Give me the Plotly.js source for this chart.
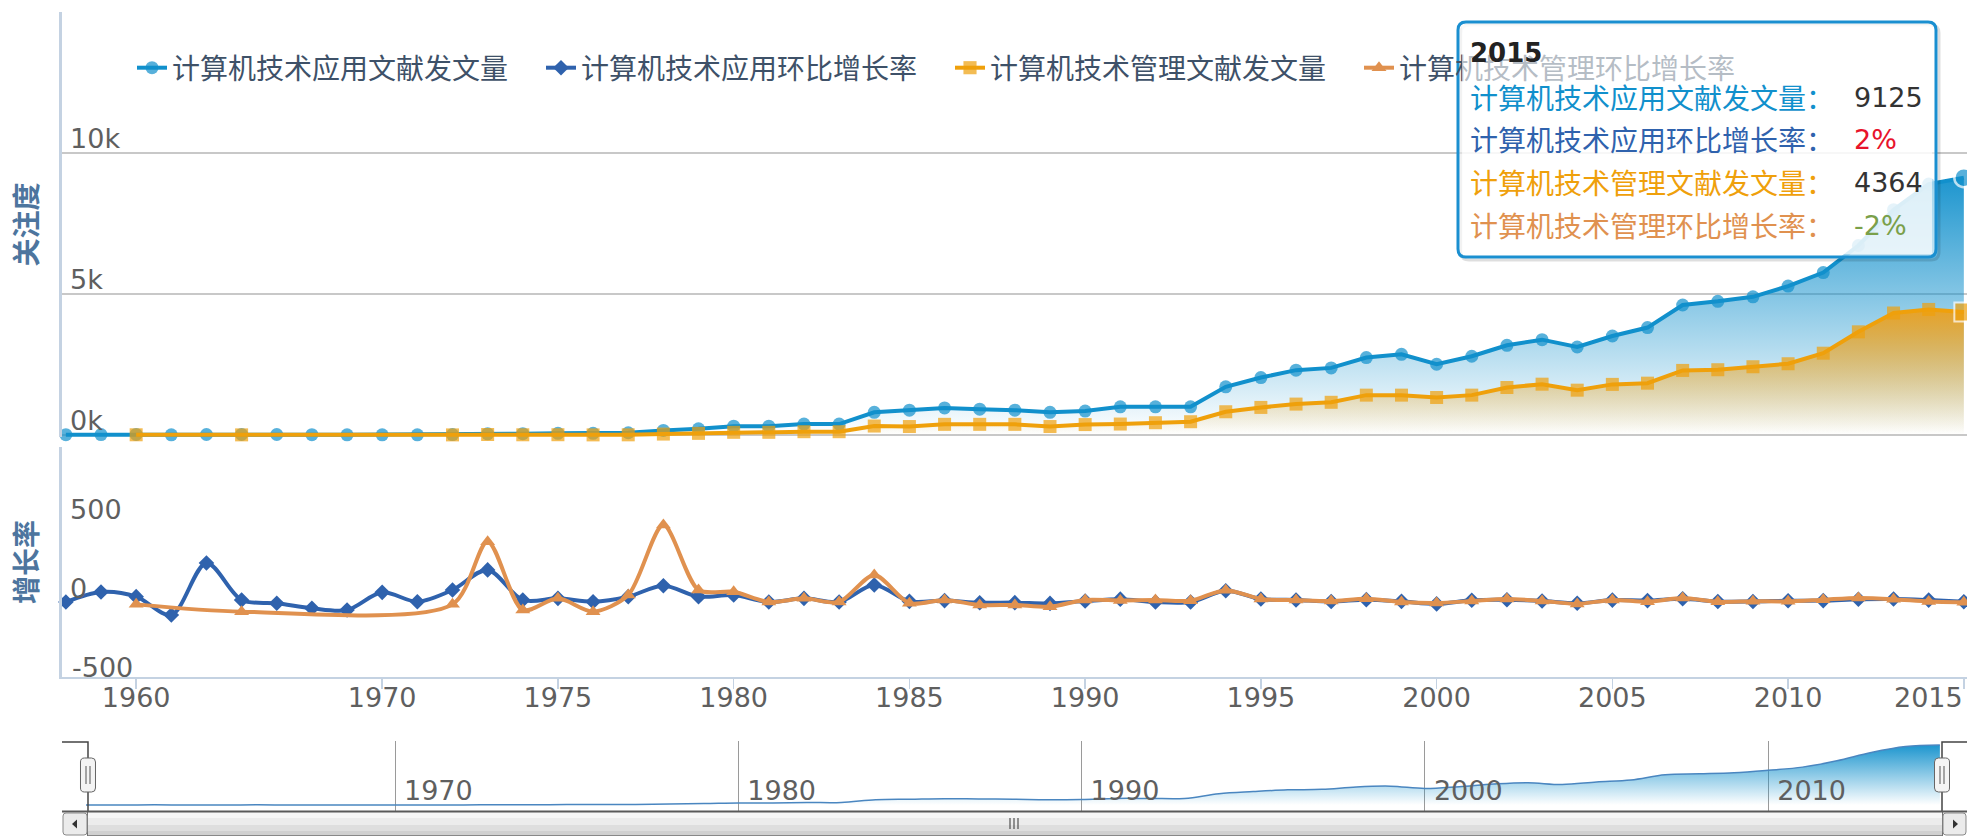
<!DOCTYPE html>
<html><head><meta charset="utf-8">
<script src="https://cdn.plot.ly/plotly-3.0.1.min.js"></script>
<style>html,body{margin:0;padding:0;background:#fff;overflow:hidden}#chart{width:1967px;height:837px}</style>
</head><body><div id="chart"></div>
<script>
// ---------- data ----------
const YEARS = ['1956','1958','1960','1961','1962','1963','1964','1966','1968','1970',
  '1971','1972','1973','1974','1975','1976','1977','1978','1979','1980',
  '1981','1982','1983','1984','1985','1986','1987','1988','1989','1990',
  '1991','1992','1993','1994','1995','1996','1997','1998','1999','2000',
  '2001','2002','2003','2004','2005','2006','2007','2008','2009','2010',
  '2011','2012','2013','2014','2015'];
const APP_COUNT = [10,15,20,5,17,19,17,10,5,8,
  8,14,42,48,58,60,80,163,218,314,
  314,386,386,804,880,960,915,880,805,850,
  1000,1000,1000,1708,2038,2300,2380,2745,2862,2509,
  2792,3181,3381,3121,3510,3810,4610,4740,4900,5280,
  5760,6720,7990,8900,9125];
const APP_GROWTH = [0,63,34,-82,247,13,-8,-40,-51,61,
  2,76,203,13,23,2,34,103,34,44,
  0,23,0,108,4,9,-5,-4,-9,6,
  18,0,0,71,19,13,3,15,4,-12,
  11,14,6,-8,12,9,21,3,3,8,
  9,17,19,12,2];
const MGMT_YEARS = ['1960','1963','1972','1973','1974','1975','1976','1977','1978','1979','1980',
  '1981','1982','1983','1984','1985','1986','1987','1988','1989','1990',
  '1991','1992','1993','1994','1995','1996','1997','1998','1999','2000',
  '2001','2002','2003','2004','2005','2006','2007','2008','2009','2010',
  '2011','2012','2013','2014','2015'];
const MGMT_COUNT = [8,5,4,17,8,10,4,6,33,58,95,
  95,117,117,318,300,378,378,378,300,370,
  389,436,471,824,978,1096,1160,1414,1414,1331,
  1414,1685,1802,1590,1795,1838,2290,2315,2421,2527,
  2901,3658,4326,4453,4364];
const MGMT_GROWTH = [-15,-61,-15,382,-51,23,-61,44,487,76,65,
  0,23,0,171,-8,13,-19,-19,-30,13,
  10,12,8,75,19,12,6,20,0,-6,
  6,19,7,-12,13,2,25,1,5,4,
  15,26,18,3,-2];
const SERIES_NAMES = ['计算机技术应用文献发文量','计算机技术应用环比增长率','计算机技术管理文献发文量','计算机技术管理环比增长率'];
const X_TICKS = ['1960','1970','1975','1980','1985','1990','1995','2000','2005','2010','2015'];
const NAV_TICKS = ['1970','1980','1990','2000','2010'];
const Y1_TICKS = [0,5000,10000,15000];
const Y1_LABELS = ['0k','5k','10k',''];
const Y2_TICKS = [0,500];
const Y2_LABELS = ['0','500'];
const Y_TITLES = ['关注度','增长率'];

// ---------- style ----------
const C1 = '#1190cc', C2 = '#2f62ad', C3 = '#efa00b', C4 = '#e0914f';
const NUMF = 'DejaVu Sans, Noto Sans CJK SC, sans-serif';
const CJKF = 'Noto Sans CJK SC, sans-serif';
const W = 1967, H = 837, L = 62;
const px2x = p => (p - L) / (W - L);
const px2y = p => 1 - p / H;
const last = YEARS.length - 1;
const lastM = MGMT_YEARS.length - 1;

function rr(x0, y0, x1, y1, r) {
  const P = (x, y) => px2x(x).toFixed(6) + ',' + px2y(y).toFixed(6);
  return 'M' + P(x0 + r, y0) + ' L' + P(x1 - r, y0) + ' Q' + P(x1, y0) + ' ' + P(x1, y0 + r) +
    ' L' + P(x1, y1 - r) + ' Q' + P(x1, y1) + ' ' + P(x1 - r, y1) +
    ' L' + P(x0 + r, y1) + ' Q' + P(x0, y1) + ' ' + P(x0, y1 - r) +
    ' L' + P(x0, y0 + r) + ' Q' + P(x0, y0) + ' ' + P(x0 + r, y0) + ' Z';
}
function pth(pts, close) {
  return pts.map((p, i) => (i ? 'L' : 'M') + px2x(p[0]).toFixed(6) + ',' + px2y(p[1]).toFixed(6)).join(' ') + (close ? ' Z' : '');
}
function rect(x0, y0, x1, y1, fill, line, lw) {
  return {type: 'rect', xref: 'paper', yref: 'paper', x0: px2x(x0), x1: px2x(x1), y0: px2y(y1), y1: px2y(y0),
    fillcolor: fill, line: {color: line || 'rgba(0,0,0,0)', width: lw || 0}, layer: 'above'};
}
function seg(x0, y0, x1, y1, color, w) {
  return {type: 'line', xref: 'paper', yref: 'paper', x0: px2x(x0), x1: px2x(x1), y0: px2y(y0), y1: px2y(y1),
    line: {color: color, width: w}, layer: 'above'};
}

const gradBlue = {type: 'vertical', start: 0, stop: Math.max(...APP_COUNT),
  colorscale: [[0, 'rgba(17,144,204,0)'], [1, 'rgba(17,144,204,0.95)']]};
const gradOrange = {type: 'vertical', start: 0, stop: Math.max(...MGMT_COUNT),
  colorscale: [[0, 'rgba(239,160,11,0)'], [1, 'rgba(236,160,30,0.95)']]};

const traces = [
  {x: YEARS, y: APP_COUNT, xaxis: 'x', yaxis: 'y', mode: 'none', fill: 'tozeroy', fillgradient: gradBlue, showlegend: false, hoverinfo: 'skip'},
  {x: MGMT_YEARS, y: MGMT_COUNT, xaxis: 'x', yaxis: 'y', mode: 'none', fill: 'tozeroy', fillgradient: gradOrange, showlegend: false, hoverinfo: 'skip'},
  {x: YEARS, y: APP_COUNT, xaxis: 'x', yaxis: 'y', name: SERIES_NAMES[0], mode: 'lines+markers', cliponaxis: false,
    line: {color: C1, width: 4},
    marker: {symbol: 'circle', color: C1, size: YEARS.map((_, i) => i === last ? 19 : 13),
      line: {color: '#fff', width: YEARS.map((_, i) => i === last ? 2.5 : 0)}}},
  {x: YEARS, y: APP_GROWTH, xaxis: 'x', yaxis: 'y2', name: SERIES_NAMES[1], mode: 'lines+markers', cliponaxis: false,
    line: {color: C2, width: 4, shape: 'spline', smoothing: 0.9},
    marker: {symbol: 'diamond', color: C2, size: 12}},
  {x: MGMT_YEARS, y: MGMT_COUNT, xaxis: 'x', yaxis: 'y', name: SERIES_NAMES[2], mode: 'lines+markers', cliponaxis: false,
    line: {color: C3, width: 4},
    marker: {symbol: 'square', color: C3, size: MGMT_YEARS.map((_, i) => i === lastM ? 19 : 13),
      line: {color: '#fff', width: MGMT_YEARS.map((_, i) => i === lastM ? 2 : 0)}}},
  {x: MGMT_YEARS, y: MGMT_GROWTH, xaxis: 'x', yaxis: 'y2', name: SERIES_NAMES[3], mode: 'lines+markers', cliponaxis: false,
    line: {color: C4, width: 4, shape: 'spline', smoothing: 0.8},
    marker: {symbol: 'triangle-up', color: C4, size: 13}},
  {x: YEARS, y: APP_COUNT, xaxis: 'x2', yaxis: 'y3', mode: 'lines', fill: 'tozeroy', fillgradient: gradBlue,
    line: {color: '#4a86c0', width: 1.5, shape: 'spline'}, showlegend: false, hoverinfo: 'skip'}
];

const tickFont = {family: NUMF, size: 27, color: '#5f5f5f'};
const titleFont = {family: CJKF, size: 28, color: '#4d759e', weight: 'bold'};

// ---------- decorations (tooltip, navigator, scrollbar) ----------
const shapes = [];
shapes.push({type: 'path', xref: 'paper', yref: 'paper', path: rr(1461, 25, 1939, 260, 8), fillcolor: 'rgba(0,0,0,0)', line: {color: 'rgba(0,0,0,0.13)', width: 3}, layer: 'above'});
shapes.push({type: 'path', xref: 'paper', yref: 'paper', path: rr(1458, 22, 1936, 257, 8), fillcolor: 'rgba(255,255,255,0.6)', line: {color: '#1a8fd0', width: 3}, layer: 'above'});
shapes.push({type: 'path', xref: 'paper', yref: 'paper', path: pth([[62, 742], [88, 742], [88, 836]]), line: {color: '#444', width: 1.5}, layer: 'above'});
shapes.push({type: 'path', xref: 'paper', yref: 'paper', path: pth([[1942, 836], [1942, 742], [1967, 742]]), line: {color: '#444', width: 1.5}, layer: 'above'});
shapes.push(rect(88, 812, 1942, 818, '#f7f7f7'));
shapes.push(rect(88, 818, 1942, 825, '#ececec'));
shapes.push(rect(88, 825, 1942, 831, '#dedede'));
shapes.push(rect(88, 831, 1942, 835, '#d0d0d0'));
shapes.push(seg(62, 811.5, 1967, 811.5, '#5a5a5a', 2));
shapes.push(seg(88, 835.5, 1942, 835.5, '#888', 1));
shapes.push({type: 'path', xref: 'paper', yref: 'paper', path: rr(63, 813, 87, 835, 3), fillcolor: '#ebebeb', line: {color: '#8a8a8a', width: 1}, layer: 'above'});
shapes.push({type: 'path', xref: 'paper', yref: 'paper', path: rr(1943, 813, 1966, 835, 3), fillcolor: '#ebebeb', line: {color: '#8a8a8a', width: 1}, layer: 'above'});
shapes.push({type: 'path', xref: 'paper', yref: 'paper', path: pth([[72, 824], [77, 819.5], [77, 828.5]], true), fillcolor: '#333', line: {width: 0}, layer: 'above'});
shapes.push({type: 'path', xref: 'paper', yref: 'paper', path: pth([[1958, 824], [1953, 819.5], [1953, 828.5]], true), fillcolor: '#333', line: {width: 0}, layer: 'above'});
[1010, 1014, 1018].forEach(x => shapes.push(seg(x, 818, x, 829, '#333', 1)));
[88, 1942].forEach(cx => {
  shapes.push({type: 'path', xref: 'paper', yref: 'paper', path: rr(cx - 7.5, 758, cx + 7.5, 792, 4), fillcolor: '#f4f4f4', line: {color: '#666', width: 1}, layer: 'above'});
  shapes.push(seg(cx - 2, 766, cx - 2, 784, '#555', 1));
  shapes.push(seg(cx + 2, 766, cx + 2, 784, '#555', 1));
});

const annotations = [];
annotations.push({xref: 'paper', yref: 'paper', x: px2x(1697), y: px2y(139.5), xanchor: 'center', yanchor: 'middle',
  text: ' ', showarrow: false, width: 470, height: 229, bgcolor: 'rgba(255,255,255,0.62)', borderpad: 0, borderwidth: 0});
annotations.push({xref: 'paper', yref: 'paper', x: px2x(1468), y: px2y(53), xanchor: 'left', yanchor: 'middle', showarrow: false,
  text: '<b>' + YEARS[last] + '</b>', font: {family: NUMF, size: 26, color: '#222'}});
const tipRows = [
  [SERIES_NAMES[0], C1, String(APP_COUNT[last]), '#333'],
  [SERIES_NAMES[1], C2, APP_GROWTH[last] + '%', APP_GROWTH[last] >= 0 ? '#e8132b' : '#7aa04a'],
  [SERIES_NAMES[2], C3, String(MGMT_COUNT[lastM]), '#333'],
  [SERIES_NAMES[3], C4, MGMT_GROWTH[lastM] + '%', MGMT_GROWTH[lastM] >= 0 ? '#e8132b' : '#7aa04a']
];
const rowY = [97, 139, 182, 225];
tipRows.forEach((r, k) => {
  annotations.push({xref: 'paper', yref: 'paper', x: px2x(1468), y: px2y(rowY[k]), xanchor: 'left', yanchor: 'middle', showarrow: false,
    text: r[0] + '：', font: {family: CJKF, size: 28, color: r[1]}});
  annotations.push({xref: 'paper', yref: 'paper', x: px2x(1852), y: px2y(rowY[k]), xanchor: 'left', yanchor: 'middle', showarrow: false,
    text: r[2], font: {family: NUMF, size: 27, color: r[3]}});
});
annotations.push({xref: 'paper', yref: 'paper', x: px2x(70), y: px2y(667), xanchor: 'left', yanchor: 'middle', showarrow: false,
  text: '-500', font: tickFont});
annotations.push({xref: 'x', yref: 'paper', x: YEARS.indexOf(X_TICKS[X_TICKS.length - 1]), y: px2y(697), xanchor: 'center', yanchor: 'middle', xshift: -35, showarrow: false,
  text: X_TICKS[X_TICKS.length - 1], font: tickFont});

const layout = {
  width: W, height: H,
  margin: {l: L, r: 0, t: 0, b: 0, pad: 0},
  paper_bgcolor: '#fff', plot_bgcolor: 'rgba(0,0,0,0)',
  showlegend: true,
  hovermode: false,
  legend: {orientation: 'h', x: px2x(132), xanchor: 'left', y: px2y(68), yanchor: 'middle',
    font: {family: CJKF, size: 28, color: '#3e5168'}, bgcolor: 'rgba(0,0,0,0)',
    entrywidth: 364, entrywidthmode: 'pixels', itemwidth: 30, traceorder: 'normal'},
  xaxis: {type: 'category', categoryorder: 'array', categoryarray: YEARS, range: [-0.11, 54.09], anchor: 'y2', domain: [0, 1],
    tickmode: 'array', tickvals: X_TICKS, ticktext: X_TICKS.map((t, i) => i === X_TICKS.length - 1 ? '' : t),
    ticks: 'outside', ticklen: 10, tickwidth: 1.5, tickcolor: '#c4d2e2', tickfont: tickFont, ticklabelstandoff: -14,
    showline: true, linecolor: '#c4d2e2', linewidth: 2, showgrid: false, zeroline: false, fixedrange: true},
  yaxis: {domain: [px2y(437), px2y(12)], range: [-70.9, 15000], anchor: 'x',
    tickmode: 'array', tickvals: Y1_TICKS, ticktext: Y1_LABELS, ticklabelposition: 'inside top', ticks: '',
    ticklabelstandoff: 9, ticklabelshift: 4,
    tickfont: tickFont, showgrid: true, gridcolor: '#c8c8c8', gridwidth: 1.5, zeroline: false,
    showline: true, linecolor: '#c4d2e2', linewidth: 3, automargin: true,
    title: {text: Y_TITLES[0], font: titleFont, standoff: 25}},
  yaxis2: {domain: [px2y(677), px2y(447)], range: [-474.7, 981], anchor: 'x',
    tickmode: 'array', tickvals: Y2_TICKS, ticktext: Y2_LABELS, ticklabelposition: 'inside top', ticks: '',
    ticklabelstandoff: 9, ticklabelshift: 5,
    tickfont: tickFont, showgrid: false, zeroline: false,
    showline: true, linecolor: '#c4d2e2', linewidth: 3, automargin: true,
    title: {text: Y_TITLES[1], font: titleFont, standoff: 25}},
  xaxis2: {type: 'category', categoryorder: 'array', categoryarray: YEARS, range: [-0.70, 54.79], anchor: 'y3', domain: [0, 1],
    tickmode: 'array', tickvals: NAV_TICKS, ticktext: NAV_TICKS, ticklabelposition: 'inside right', ticks: '',
    ticklabelshift: 9,
    tickfont: tickFont, showgrid: true, gridcolor: '#9a9a9a', gridwidth: 1, showline: false, zeroline: false},
  yaxis3: {domain: [px2y(811), px2y(741)], range: [-913, 9733], anchor: 'x2',
    showticklabels: false, showgrid: false, zeroline: false, showline: false, ticks: ''},
  shapes: shapes,
  annotations: annotations
};

Plotly.newPlot('chart', traces, layout, {staticPlot: true, displayModeBar: false});
</script>
</body></html>
